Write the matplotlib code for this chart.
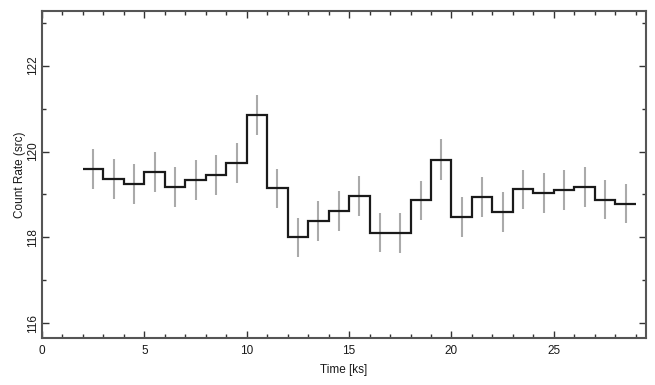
import matplotlib
matplotlib.use("Agg")
import matplotlib.pyplot as plt
from matplotlib.ticker import MultipleLocator
import numpy as np

# Bin edges (ks) and count rates
bin_edges = [2, 3, 4, 5, 6, 7, 8, 9, 10, 11, 12, 13, 14, 15, 16, 17, 18, 19,
             20, 21, 22, 23, 24, 25, 26, 27, 28, 29]
rates = [119.59, 119.36, 119.24, 119.52, 119.17, 119.34, 119.45, 119.73, 120.85,
         119.14, 118.00, 118.38, 118.62, 118.97, 118.11, 118.10, 118.86, 119.81,
         118.47, 118.94, 118.59, 119.12, 119.03, 119.10, 119.18, 118.88, 118.79]
errors = [0.47, 0.47, 0.47, 0.47, 0.47, 0.47, 0.47, 0.47, 0.47,
          0.46, 0.46, 0.46, 0.46, 0.46, 0.46, 0.46, 0.46, 0.47,
          0.46, 0.46, 0.46, 0.46, 0.46, 0.46, 0.46, 0.46, 0.46]

plt.rcParams['font.family'] = ['Liberation Sans', 'DejaVu Sans']

fig = plt.figure(figsize=(6.55, 3.85), dpi=100)
ax = fig.add_axes([42/655, 1-338/385, (646-42)/655, (338-11)/385])

edges = np.array(bin_edges, dtype=float)
centers = (edges[:-1] + edges[1:]) / 2
ax.errorbar(centers, rates, yerr=errors, fmt='none', ecolor='#aaaaaa',
            elinewidth=1.5, capsize=0, zorder=2)
ax.stairs(rates, edges, baseline=None, color='#1a1a1a', linewidth=1.6, zorder=3)

ax.set_xlim(0, 29.5)
ax.set_ylim(115.66, 123.27)
ax.xaxis.set_major_locator(MultipleLocator(5))
ax.xaxis.set_minor_locator(MultipleLocator(1))
ax.yaxis.set_major_locator(MultipleLocator(2))
ax.yaxis.set_minor_locator(MultipleLocator(1))

ax.tick_params(which='both', direction='in', top=True, right=True,
               colors='#333333', labelcolor='#1a1a1a', labelsize=8.5, width=1)
ax.tick_params(which='major', length=5)
ax.tick_params(which='minor', length=3)
ax.tick_params(axis='y', labelrotation=90, pad=2)
for lbl in ax.get_yticklabels():
    lbl.set_va('center')
ax.tick_params(axis='x', pad=5)

for sp in ax.spines.values():
    sp.set_color('#555555')
    sp.set_linewidth(1.5)

ax.set_xlabel('Time [ks]', fontsize=8.5, labelpad=5, color='#1a1a1a')
ax.set_ylabel('Count Rate (src)', fontsize=8.5, labelpad=1, color='#1a1a1a')

fig.savefig('out.png', dpi=100)
